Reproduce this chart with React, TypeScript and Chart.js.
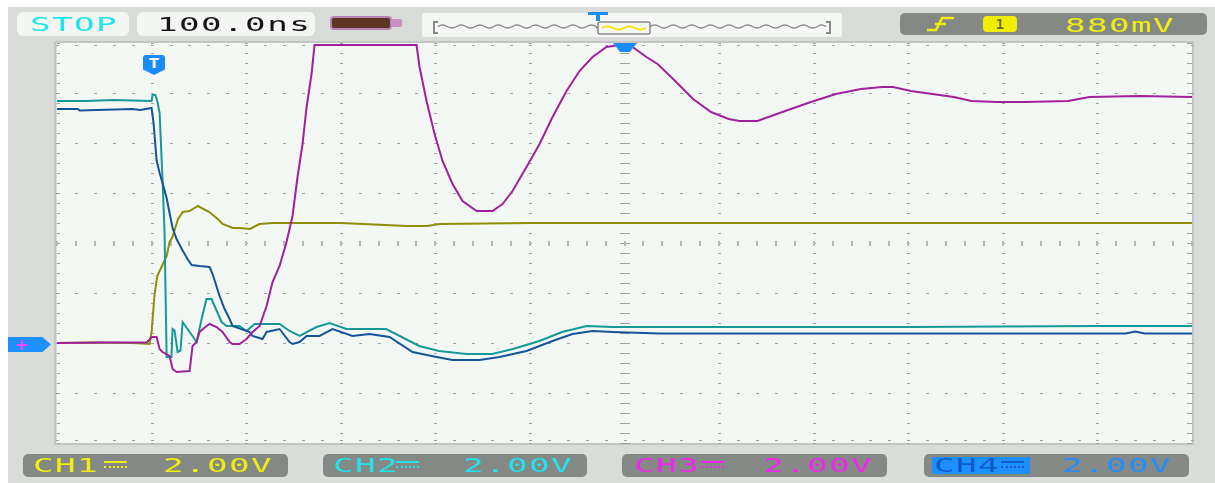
import React, { useEffect, useRef } from "react";
import { Chart, registerables } from "chart.js";

Chart.register(...registerables);

// ---- axes (100 ns/div, 2 V/div, trigger at t = 0) ----
const T_MIN = -100;
const T_MAX = 1100;
const T_CENTER = 500;
const V_MIN = -4;
const V_MAX = 12;
const V_CENTER = 4;
const timeTicks = [-100, 0, 100, 200, 300, 400, 500, 600, 700, 800, 900, 1000, 1100];
const voltTicks = [-4, -2, 0, 2, 4, 6, 8, 10, 12];
const MINOR_T = 20;
const MINOR_V = 0.4;

// ---- traces: [time ns, volts] ----
const ch1Points: [number, number][] = [
  [-100, 0], [-60, 0.02], [-20, 0], [-2, -0.04], [0, 0.44], [3, 1.88], [6, 2.68], [11, 3.08],
  [16, 3.48], [19, 4.04], [22, 4.24], [28, 4.96], [33, 5.24], [40, 5.28], [49, 5.48], [61, 5.24],
  [70, 4.96], [75, 4.76], [86, 4.6], [93, 4.6], [104, 4.56], [114, 4.76], [128, 4.8], [200, 4.8],
  [270, 4.68], [291, 4.68], [305, 4.76], [400, 4.8], [600, 4.8], [800, 4.8], [1000, 4.8], [1100, 4.8],
];

const ch2Points: [number, number][] = [
  [-100, 9.68], [-70, 9.68], [-40, 9.72], [0, 9.68], [1, 9.92], [4, 9.92], [6, 9.68], [8.5, 9.2],
  [11.6, 6.5], [13.7, 4.44], [15.9, -0.56], [21, -0.56], [22.2, 0.56], [24.3, 0.5], [27.5, -0.36],
  [30.6, -0.3], [32.8, 0.84], [38, 0.56], [43.3, 0.28], [47.6, 0.04], [52.9, 0.96], [58, 1.76],
  [63.4, 1.76], [66.6, 1.48], [74, 0.84], [79.3, 0.68], [93, 0.68], [100.4, 0.48], [109, 0.76],
  [135.3, 0.76], [145.9, 0.48], [156.5, 0.28], [174.4, 0.64], [188.2, 0.8], [206, 0.56], [248, 0.56],
  [283, -0.12], [304, -0.32], [333, -0.44], [360, -0.44], [382, -0.24], [410, 0.08], [434, 0.44],
  [460, 0.68], [487, 0.64], [600, 0.64], [800, 0.64], [1000, 0.68], [1100, 0.68],
];

const ch3Points: [number, number][] = [
  [-100, 0], [-50, 0.02], [-5, 0.02], [0, 0.24], [5.3, 0.24], [8.5, -0.24], [11.6, -0.36], [19, -0.52],
  [22.2, -1.04], [26.4, -1.16], [40.2, -1.12], [43.3, -0.12], [47.6, 0.04], [50.7, 0.44], [58.1, 0.68],
  [61.3, 0.76], [68.7, 0.64], [75, 0.44], [82.5, 0.04], [85.6, -0.04], [93, -0.04], [100.4, 0.16],
  [106.8, 0.44], [114.2, 0.68], [121.6, 1.48], [127.9, 2.44], [135.3, 3.08], [142.7, 4.04], [149, 5.08],
  [154.3, 6.64], [159.6, 7.96], [163.9, 9.44], [169.1, 10.76], [172.3, 11.92], [280.1, 11.92],
  [283.3, 11.04], [290.7, 9.68], [299.2, 8.36], [307.6, 7.28], [318.2, 6.36], [328.8, 5.68],
  [343.6, 5.28], [360.5, 5.28], [371, 5.56], [381.6, 6.08], [396.4, 7.04], [410.2, 7.96], [423.9, 9.04],
  [438.7, 10.08], [452.4, 10.88], [466.2, 11.44], [481, 11.84], [494.7, 11.92], [508.5, 11.84],
  [523.2, 11.44], [535, 11.16], [553.6, 10.48], [572.5, 9.76], [591.4, 9.24], [610.2, 8.96],
  [621.4, 8.88], [640.5, 8.88], [666.9, 9.24], [697, 9.64], [723.5, 9.96], [749.9, 10.16],
  [772.6, 10.24], [783.9, 10.24], [802.8, 10.08], [825.5, 9.96], [848.1, 9.84], [866.8, 9.68],
  [893.2, 9.64], [923.6, 9.64], [968.9, 9.68], [991.6, 9.84], [1044.4, 9.88], [1100, 9.84],
];

const ch4Points: [number, number][] = [
  [-100, 9.36], [-78, 9.36], [-76, 9.3], [-20, 9.36], [-12, 9.32], [0, 9.4], [2.1, 8.8], [5.3, 7.3],
  [8.5, 6.8], [11.6, 6.4], [15.9, 5.8], [19, 5.2], [22.2, 4.6], [26.4, 4.16], [32.8, 3.7], [38, 3.36],
  [42.3, 3.12], [50.7, 3.08], [61.3, 3.04], [64.5, 2.76], [71.9, 1.88], [77.2, 1.36], [82.5, 0.96],
  [85.6, 0.68], [103.6, 0.44], [106.8, 0.28], [117.3, 0.16], [121.6, 0.44], [135.3, 0.56], [145.9, 0.04],
  [149, -0.04], [156.5, 0.04], [163.9, 0.28], [177.6, 0.28], [191.3, 0.56], [212.5, 0.28], [230.4, 0.36],
  [251.6, 0.24], [275.9, -0.36], [301.3, -0.56], [318.2, -0.68], [346.7, -0.68], [367.9, -0.56],
  [396.4, -0.32], [423.9, 0.08], [445, 0.36], [466.2, 0.48], [487.3, 0.44], [537, 0.38], [700, 0.38],
  [900, 0.38], [1030, 0.38], [1040, 0.46], [1050, 0.38], [1100, 0.38],
];

const C1 = "#8e8e08";
const C2 = "#169898";
const C3 = "#a0209e";
const C4 = "#16549a";

const MARK = "#a0a4a0";
const MARK_C = "#b4b7b4";

const gridPlugin = {
  id: "scopeGrid",
  beforeDatasetsDraw(chart: any) {
    const { ctx, chartArea: a, scales } = chart;
    const xs = scales.x;
    const ys = scales.y;
    ctx.save();
    ctx.fillStyle = "#f4f8f5";
    ctx.fillRect(a.left, a.top, a.right - a.left, a.bottom - a.top);
    ctx.strokeStyle = "#c2c6c2";
    ctx.lineWidth = 2;
    ctx.strokeRect(a.left - 2, a.top - 1, a.right - a.left + 3, a.bottom - a.top + 2);

    const minorTs: number[] = [];
    for (let t = T_MIN; t <= T_MAX + 0.01; t += MINOR_T) minorTs.push(t);
    const minorVs: number[] = [];
    for (let v = V_MIN; v <= V_MAX + 0.001; v += MINOR_V) minorVs.push(v);

    ctx.fillStyle = MARK;
    for (const t of timeTicks) {
      const px = Math.round(xs.getPixelForValue(t));
      for (const v of minorVs) {
        const py = Math.round(ys.getPixelForValue(v));
        if (t === T_CENTER) ctx.fillRect(px - 5, py, 10, 1);
        else if (t === T_MIN) ctx.fillRect(px, py, 3, 1);
        else if (t === T_MAX) ctx.fillRect(px - 5, py, 5, 1);
        else ctx.fillRect(px - 1, py, 3, 1);
      }
    }
    for (const v of voltTicks) {
      const py = Math.round(ys.getPixelForValue(v));
      for (const t of minorTs) {
        const px = Math.round(xs.getPixelForValue(t));
        if (v === V_CENTER) {
          ctx.fillStyle = MARK_C;
          ctx.fillRect(px - 1, py - 2, 2, 5);
          ctx.fillStyle = MARK;
        } else if (v === V_MAX) ctx.fillRect(px - 1, py + 2, 3, 1);
        else if (v === V_MIN) ctx.fillRect(px - 1, py - 3, 3, 1);
        else ctx.fillRect(px - 1, py, 3, 1);
      }
    }
    ctx.restore();
  },
};

const FONT = '"DejaVu Sans Mono", "Liberation Mono", monospace';

function Txt(props: { x: number; top: number; text: string; color: string; size?: number; sx?: number; ls?: number }) {
  const size = props.size ?? 19;
  return (
    <span
      style={{
        position: "absolute",
        left: props.x,
        top: props.top,
        fontFamily: FONT,
        fontSize: size,
        lineHeight: `${size}px`,
        color: props.color,
        letterSpacing: props.ls ?? 0.8,
        transform: `scaleX(${props.sx ?? 1.8})`,
        transformOrigin: "0 0",
        whiteSpace: "pre",
      }}
    >
      {props.text}
    </span>
  );
}

function Dc(props: { x: number; color: string }) {
  return (
    <>
      <div style={{ position: "absolute", left: props.x, top: 461, width: 23, height: 2, background: props.color }} />
      <div style={{ position: "absolute", left: props.x, top: 466, width: 23, height: 0, borderTop: `2px dotted ${props.color}` }} />
    </>
  );
}

function wavePath(x0: number, x1: number, yc: number, half: number, amp: number) {
  let d = `M${x0} ${yc}`;
  let x = x0;
  let up = true;
  while (x < x1 - 0.01) {
    const nx = Math.min(x + half, x1);
    d += ` Q${(x + nx) / 2} ${up ? yc - amp * 2 : yc + amp * 2} ${nx} ${yc}`;
    x = nx;
    up = !up;
  }
  return d;
}

const box = (left: number, top: number, width: number, height: number, bg: string, r = 6): React.CSSProperties => ({
  position: "absolute",
  left,
  top,
  width,
  height,
  background: bg,
  borderRadius: r,
});

export default function App() {
  const ref = useRef<HTMLCanvasElement>(null);

  useEffect(() => {
    if (!ref.current) return;
    const mk = (label: string, pts: [number, number][], color: string, order: number) => ({
      label,
      data: pts.map((p) => ({ x: p[0], y: p[1] })),
      borderColor: color,
      backgroundColor: color,
      borderWidth: 2,
      pointRadius: 0,
      tension: 0,
      fill: false,
      order,
    });
    const chart = new Chart(ref.current, {
      type: "line",
      data: {
        datasets: [
          mk("CH1", ch1Points, C1, 3),
          mk("CH2", ch2Points, C2, 2),
          mk("CH3", ch3Points, C3, 0),
          mk("CH4", ch4Points, C4, 1),
        ],
      },
      options: {
        animation: false,
        responsive: false,
        devicePixelRatio: 1,
        events: [],
        layout: { padding: { left: 57, right: 23, top: 43, bottom: 40 } },
        plugins: { legend: { display: false }, tooltip: { enabled: false } },
        scales: {
          x: { type: "linear", min: T_MIN, max: T_MAX, display: false },
          y: { type: "linear", min: V_MIN, max: V_MAX, display: false },
        },
      },
      plugins: [gridPlugin],
    } as any);
    return () => chart.destroy();
  }, []);

  return (
    <div style={{ position: "fixed", left: 0, top: 0, width: 1215, height: 483, background: "#ffffff", overflow: "hidden" }}>
      <div style={{ position: "absolute", left: 8, top: 7, width: 1207, height: 476, background: "#d9dcd9" }} />
      <canvas ref={ref} width={1215} height={483} style={{ position: "absolute", left: 0, top: 0, width: 1215, height: 483 }} />

      {/* header */}
      <div style={box(17, 12, 112, 24, "#f3f6f3")} />
      <Txt x={30} top={15} text="STOP" color="#1ee4ee" />
      <div style={box(137, 12, 178, 24, "#f3f6f3")} />
      <Txt x={157} top={15} text="100.0ns" color="#161616" />
      <div style={{ ...box(330, 16, 62, 14, "#5b3526", 4), border: "2px solid #b483b4", boxSizing: "border-box" }} />
      <div style={box(391, 19, 11, 8, "#c98fbf", 2)} />

      <div style={box(422, 13, 420, 24, "#f4f7f4", 2)} />
      <svg style={{ position: "absolute", left: 422, top: 13 }} width={420} height={24}>
        <path d="M16 9 H12 V20 H16" stroke="#8a8a8a" strokeWidth={2} fill="none" />
        <path d="M404 9 H408 V20 H404" stroke="#8a8a8a" strokeWidth={2} fill="none" />
        <path d={wavePath(16, 176, 13.5, 9.3, 1.6)} stroke="#8a8a8a" strokeWidth={1.5} fill="none" />
        <path d={wavePath(228, 404, 13.5, 9.3, 1.6)} stroke="#8a8a8a" strokeWidth={1.5} fill="none" />
        <rect x={176} y={9} width={52} height={12} rx={2} stroke="#8a8a8a" strokeWidth={1.5} fill="#f4f7f4" />
        <path d={wavePath(180, 224, 15, 11, 1.6)} stroke="#f2e600" strokeWidth={1.8} fill="none" />
      </svg>
      <div style={box(588, 12, 20, 3, "#1e8cf0", 0)} />
      <div style={box(596, 12, 4, 9, "#1e8cf0", 0)} />

      <div style={box(900, 13, 307, 22, "#858985", 5)} />
      <svg style={{ position: "absolute", left: 926, top: 16 }} width={30} height={17}>
        <path d="M1 14 H10 L16 2 H28" stroke="#f0ee00" strokeWidth={2.6} fill="none" />
        <path d="M9 8 H20" stroke="#f0ee00" strokeWidth={2.4} fill="none" />
      </svg>
      <div style={{ ...box(983, 16, 34, 16, "#f0ee00", 4), textAlign: "center", color: "#6c6c3c", fontFamily: FONT, fontSize: 14, lineHeight: "16px", fontWeight: 700 }}>1</div>
      <Txt x={1065} top={16} text="880mV" color="#eeee10" />

      {/* plot markers */}
      <div
        style={{
          position: "absolute",
          left: 143,
          top: 55,
          width: 22,
          height: 20,
          background: "#1a8cff",
          clipPath: "polygon(8% 0, 92% 0, 100% 10%, 100% 72%, 50% 100%, 0 72%, 0 10%)",
          color: "#ffffff",
          fontFamily: '"DejaVu Sans", sans-serif',
          fontWeight: 700,
          fontSize: 14,
          lineHeight: "16px",
          textAlign: "center",
        }}
      >
        T
      </div>
      <div style={{ position: "absolute", left: 613, top: 43, width: 24, height: 9, background: "#1a8cff", clipPath: "polygon(0 0, 100% 0, 70% 100%, 30% 100%)" }} />
      <div style={{ position: "absolute", left: 8, top: 337, width: 43, height: 15, background: "#1e8fff", clipPath: "polygon(0 0, 80% 0, 100% 50%, 80% 100%, 0 100%)" }} />
      <div style={box(17, 344, 10, 2, "#ff40ff", 0)} />
      <div style={box(21, 340, 2, 10, "#ff40ff", 0)} />

      {/* footer */}
      <div style={box(23, 454, 265, 23, "#858985", 5)} />
      <Txt x={33} top={456} text="CH1" color="#eeee10" />
      <Dc x={104} color="#eeee10" />
      <Txt x={163} top={456} text="2.00V" color="#eeee10" />

      <div style={box(323, 454, 264, 23, "#858985", 5)} />
      <Txt x={333} top={456} text="CH2" color="#22e2ee" />
      <Dc x={396} color="#22e2ee" />
      <Txt x={463} top={456} text="2.00V" color="#22e2ee" />

      <div style={box(622, 454, 265, 23, "#858985", 5)} />
      <Txt x={634} top={456} text="CH3" color="#f026ee" />
      <Dc x={701} color="#f026ee" />
      <Txt x={763} top={456} text="2.00V" color="#f026ee" />

      <div style={box(924, 454, 265, 23, "#858985", 5)} />
      <div style={box(932, 457, 98, 17, "#1e8fff", 1)} />
      <Txt x={934} top={456} text="CH4" color="#0c5cc4" />
      <Dc x={1001} color="#0c5cc4" />
      <Txt x={1062} top={456} text="2.00V" color="#1e8fff" />
    </div>
  );
}
